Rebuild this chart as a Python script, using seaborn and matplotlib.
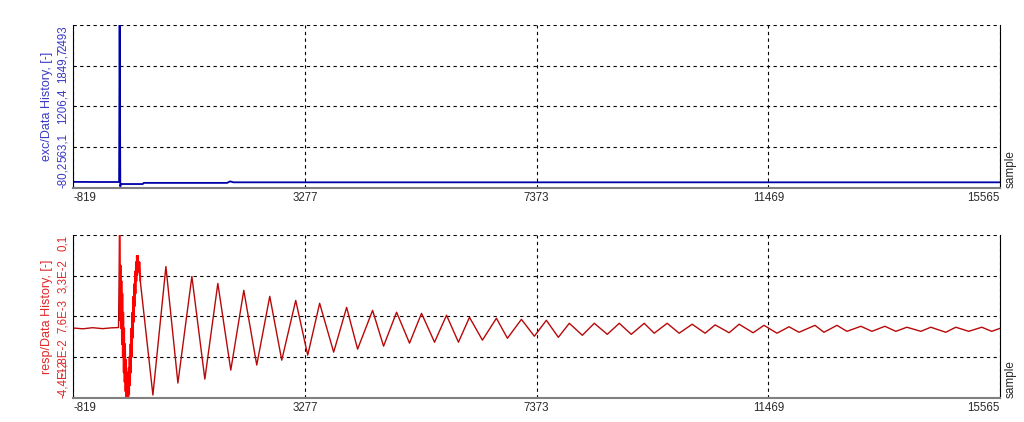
import numpy as np
import pandas as pd
import matplotlib
matplotlib.use('Agg')
import matplotlib.pyplot as plt
import seaborn as sns

# shared x axis (sample index)
x_ticks = [-819, 3277, 7373, 11469, 15565]
x_labels = ['-819', '3277', '7373', '11469', '15565']

# excitation channel
exc_ticks = [-80.2, 563.1, 1206.4, 1849.7, 2493]
exc_labels = ['-80,2', '563,1', '1206,4', '1849,7', '2493']
exc_sample = [-819, -400, -10, 0, 12, 20, 410, 425, 1900, 1953, 2010, 15565]
exc_value = [12, 10, 10, 2600, -60, -22, -22, -4, -4, 20, 5, 5]

# response channel
resp_ticks = [-0.044, -0.0182, 0.0076, 0.0334, 0.0592]
resp_labels = ['-4,4E-2', '-1,8E-2', '7,6E-3', '3,3E-2', '0,1']

# pre-trigger noise
pre_sample = [-819, -650, -480, -300, -150, -20]
pre_value = [0.0002, -0.0003, 0.0004, -0.0002, 0.0003, 0.0005]

# high frequency burst right after the hit
burst_sample = [0, 8, 16, 24, 32, 40, 48, 56, 64, 72, 80, 88, 96, 104, 112, 120,
                128, 136, 144, 152, 160, 168, 176, 184, 192, 200, 208, 216, 224,
                232, 240, 248, 256, 264, 272, 280, 288, 296, 304, 312, 323, 335,
                350, 365]
burst_value = [0.062, 0.005, 0.040, 0.000, 0.030, -0.010, 0.022, -0.018, 0.010,
               -0.028, 0.000, -0.034, -0.010, -0.040, -0.020, -0.046, -0.030,
               -0.046, -0.028, -0.046, -0.025, -0.042, -0.018, -0.036, -0.010,
               -0.028, 0.000, -0.018, 0.010, -0.006, 0.020, 0.004, 0.028, 0.014,
               0.036, 0.022, 0.042, 0.030, 0.046, 0.034, 0.046, 0.036, 0.042, 0.030]

# decaying ringing: peaks and troughs
ring_sample = [588, 818, 1030, 1277, 1506, 1736, 1965, 2195, 2424, 2654,
               2866, 3113, 3325, 3536, 3784, 4013, 4207, 4472, 4666, 4896,
               5125, 5337, 5567, 5779, 5990, 6185, 6414, 6661, 6856, 7103,
               7332, 7544, 7756, 7950, 8180, 8392, 8621, 8833, 9045, 9274,
               9451, 9680, 9892, 10122, 10351, 10528, 10775, 10952, 11199, 11393,
               11622, 11834, 12011, 12293, 12452, 12682, 12858, 13105, 13300, 13529,
               13723, 13918, 14165, 14341, 14606, 14783, 15012, 15242, 15418, 15565]
ring_value = [-0.0423, 0.0392, -0.0347, 0.0329, -0.0322, 0.0285, -0.0265, 0.0241, -0.0233, 0.0203,
              -0.0202, 0.0177, -0.0170, 0.0159, -0.0151, 0.0133, -0.0132, 0.0114, -0.0113, 0.0102,
              -0.0094, 0.0095, -0.0088, 0.0083, -0.0088, 0.0070, -0.0075, 0.0064, -0.0063, 0.0057,
              -0.0050, 0.0051, -0.0057, 0.0032, -0.0044, 0.0032, -0.0038, 0.0032, -0.0038, 0.0032,
              -0.0031, 0.0032, -0.0031, 0.0026, -0.0031, 0.0022, -0.0028, 0.0026, -0.0028, 0.0019,
              -0.0031, 0.0010, -0.0025, 0.0019, -0.0025, 0.0019, -0.0019, 0.0013, -0.0019, 0.0013,
              -0.0019, 0.0007, -0.0019, 0.0007, -0.0025, 0.0007, -0.0019, 0.0007, -0.0019, 0.0000]

sns.set_style('white')
plt.rcParams['font.family'] = ['Liberation Sans', 'DejaVu Sans']

exc_df = pd.DataFrame({'sample': exc_sample, 'value': exc_value})
resp_df = pd.DataFrame({'sample': pre_sample + burst_sample + ring_sample,
                        'value': pre_value + burst_value + ring_value})
burst_df = pd.DataFrame({'sample': burst_sample, 'value': burst_value})

fig = plt.figure(figsize=(10.24, 4.22), dpi=100)
ax1 = fig.add_axes([0.0716, 0.5552, 0.9050, 0.3855])
ax2 = fig.add_axes([0.0716, 0.0576, 0.9050, 0.3855])

sns.lineplot(data=exc_df, x='sample', y='value', ax=ax1, color='#0000a8',
             lw=1.3, estimator=None, sort=False)
sns.lineplot(data=resp_df, x='sample', y='value', ax=ax2, color='#b80808',
             lw=1.0, estimator=None, sort=False)
sns.lineplot(data=burst_df, x='sample', y='value', ax=ax2, color='#ff0000',
             lw=1.3, estimator=None, sort=False)


def style_axes(ax, yticks, ylabels, ylabel, color):
    ax.set_xlim(x_ticks[0], x_ticks[-1])
    ax.set_ylim(yticks[0], yticks[-1])
    ax.set_xticks(x_ticks)
    ax.set_xticklabels(x_labels)
    ax.set_yticks(yticks)
    ax.set_yticklabels(ylabels, rotation=90, va='center')
    ax.tick_params(length=0, labelsize=8.3, pad=3)
    ax.tick_params(axis='x', labelcolor='#2a2a2a')
    ax.tick_params(axis='y', labelcolor=color)
    xl = ax.get_xticklabels()
    xl[0].set_ha('left')
    xl[-1].set_ha('right')
    yl = ax.get_yticklabels()
    yl[0].set_va('bottom')
    yl[-1].set_va('top')
    ax.grid(True, color='black', linestyle=(0, (3, 3)), lw=0.8)
    ax.set_xlabel('')
    ax.set_ylabel(ylabel, color=color, fontsize=9, labelpad=3)
    ax.spines['top'].set_visible(False)
    ax.spines['left'].set_color('black')
    ax.spines['left'].set_linewidth(0.8)
    ax.spines['right'].set_color('black')
    ax.spines['right'].set_linewidth(0.8)
    ax.spines['bottom'].set_color('#808080')
    ax.spines['bottom'].set_linewidth(1.5)
    ax.text(1.005, 0, 'sample', transform=ax.transAxes, rotation=90,
            ha='left', va='bottom', fontsize=8.5, color='#2a2a2a')


style_axes(ax1, exc_ticks, exc_labels, 'exc/Data History, [-]', '#3a3ac4')
style_axes(ax2, resp_ticks, resp_labels, 'resp/Data History, [-]', '#e02828')

fig.savefig('out.png', dpi=100)
